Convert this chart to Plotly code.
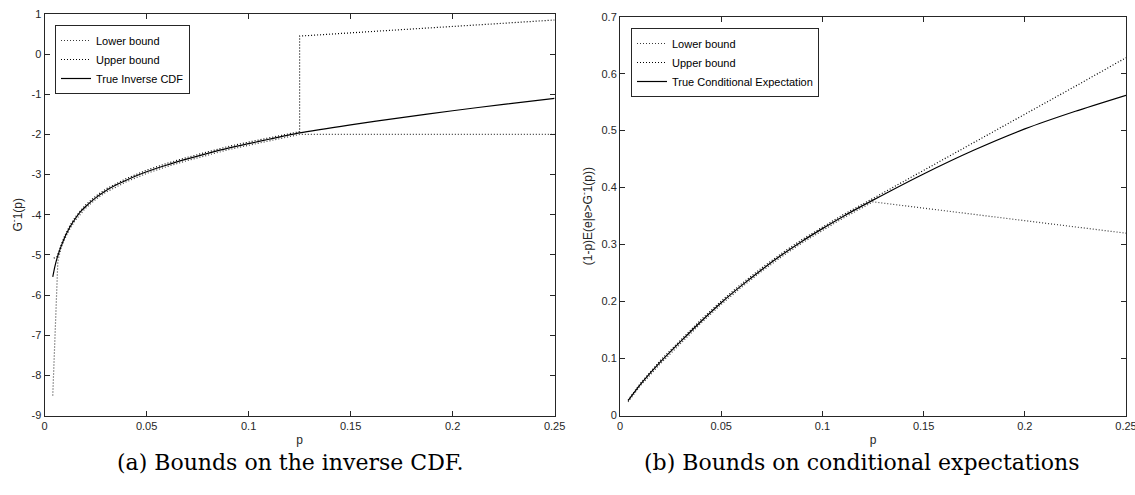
import plotly.graph_objects as go
from plotly.subplots import make_subplots

# ---- data ----
p_left = [0.004, 0.005, 0.006, 0.008, 0.010, 0.0125, 0.015, 0.0175, 0.020, 0.025, 0.030, 0.035,
          0.040, 0.045, 0.050, 0.060, 0.070, 0.080, 0.090, 0.100, 0.110, 0.125, 0.150, 0.175,
          0.200, 0.225, 0.250]
true_left = [-5.55, -5.30, -5.10, -4.80, -4.55, -4.30, -4.10, -3.93, -3.80, -3.58, -3.40, -3.26,
             -3.14, -3.03, -2.93, -2.76, -2.61, -2.47, -2.34, -2.23, -2.12, -1.96, -1.76, -1.58,
             -1.41, -1.25, -1.10]

p_lo_left = [0.004, 0.0065, 0.008, 0.010, 0.0125, 0.015, 0.020, 0.025, 0.030, 0.040, 0.050,
             0.060, 0.070, 0.080, 0.090, 0.100, 0.110, 0.125, 0.250]
lo_left = [-8.50, -5.15, -4.84, -4.59, -4.34, -4.14, -3.84, -3.62, -3.44, -3.18, -2.97,
           -2.80, -2.65, -2.51, -2.38, -2.27, -2.16, -2.00, -2.00]

p_up_left = [0.0045, 0.006, 0.008, 0.010, 0.0125, 0.015, 0.020, 0.025, 0.030, 0.040, 0.050,
             0.060, 0.070, 0.080, 0.090, 0.100, 0.110, 0.125, 0.125, 0.250]
up_left = [-5.08, -5.05, -4.76, -4.51, -4.26, -4.06, -3.76, -3.54, -3.36, -3.10, -2.89,
           -2.72, -2.57, -2.43, -2.30, -2.19, -2.08, -1.93, 0.45, 0.85]

p_right = [0.004, 0.01, 0.02, 0.03, 0.04, 0.05, 0.06, 0.07, 0.08, 0.09, 0.10, 0.11, 0.125,
           0.15, 0.175, 0.20, 0.225, 0.25]
true_right = [0.026, 0.054, 0.094, 0.130, 0.165, 0.198, 0.228, 0.256, 0.282, 0.306, 0.328,
              0.349, 0.378, 0.424, 0.466, 0.503, 0.534, 0.562]
lo_right = [0.024, 0.052, 0.091, 0.127, 0.162, 0.195, 0.225, 0.253, 0.279, 0.303, 0.325,
            0.346, 0.375, 0.364, 0.353, 0.342, 0.331, 0.320]
up_right = [0.027, 0.056, 0.097, 0.133, 0.168, 0.201, 0.231, 0.259, 0.285, 0.309, 0.331,
            0.352, 0.381, 0.430, 0.479, 0.529, 0.578, 0.628]

x_ticks = [0, 0.05, 0.1, 0.15, 0.2, 0.25]
x_ticklabels = ["0", "0.05", "0.1", "0.15", "0.2", "0.25"]
y_ticks_left = [1, 0, -1, -2, -3, -4, -5, -6, -7, -8, -9]
y_ticklabels_left = ["1", "0", "-1", "-2", "-3", "-4", "-5", "-6", "-7", "-8", "-9"]
y_ticks_right = [0, 0.1, 0.2, 0.3, 0.4, 0.5, 0.6, 0.7]
y_ticklabels_right = ["0", "0.1", "0.2", "0.3", "0.4", "0.5", "0.6", "0.7"]

W, H = 1135, 495
AX = "#262626"
SANS = "Liberation Sans, Arial, sans-serif"
SERIF = "DejaVu Serif, Liberation Serif, serif"
DOT = "1px,2px"

fig = make_subplots(rows=1, cols=2)

fig.add_trace(go.Scatter(x=p_lo_left, y=lo_left, mode="lines", name="Lower bound",
                         line=dict(color="#3a3a3a", width=1.2, dash=DOT), legend="legend"), 1, 1)
fig.add_trace(go.Scatter(x=p_up_left, y=up_left, mode="lines", name="Upper bound",
                         line=dict(color="black", width=1.2, dash=DOT), legend="legend"), 1, 1)
fig.add_trace(go.Scatter(x=p_left, y=true_left, mode="lines", name="True Inverse CDF",
                         line=dict(color="black", width=1.2, shape="spline", smoothing=0.6),
                         legend="legend"), 1, 1)

fig.add_trace(go.Scatter(x=p_right, y=lo_right, mode="lines", name="Lower bound",
                         line=dict(color="#3a3a3a", width=1.2, dash=DOT), legend="legend2"), 1, 2)
fig.add_trace(go.Scatter(x=p_right, y=up_right, mode="lines", name="Upper bound",
                         line=dict(color="black", width=1.2, dash=DOT), legend="legend2"), 1, 2)
fig.add_trace(go.Scatter(x=p_right, y=true_right, mode="lines", name="True Conditional Expectation",
                         line=dict(color="black", width=1.2, shape="spline", smoothing=0.6),
                         legend="legend2"), 1, 2)

axis_common = dict(showline=True, linecolor=AX, linewidth=1, mirror="allticks",
                   ticks="inside", ticklen=5, tickcolor=AX, showgrid=False, zeroline=False,
                   automargin=False, ticklabeloverflow="allow",
                   tickfont=dict(family=SANS, size=11, color=AX))

fig.update_xaxes(axis_common)
fig.update_yaxes(axis_common)

title_font = dict(family=SANS, size=12, color=AX)
fig.update_layout(
    xaxis=dict(domain=[44.6 / W, 554.6 / W], range=[0, 0.25], tickvals=x_ticks,
               ticktext=x_ticklabels, title=dict(text="p", font=title_font, standoff=4)),
    yaxis=dict(domain=[1 - 415.5 / H, 1 - 14 / H], range=[-9, 1], tickvals=y_ticks_left,
               ticktext=y_ticklabels_left,
               title=dict(text="G<sup>-</sup>1(p)", font=title_font, standoff=6)),
    xaxis2=dict(domain=[620 / W, 1126 / W], range=[0, 0.25], tickvals=x_ticks,
                ticktext=x_ticklabels, title=dict(text="p", font=title_font, standoff=4)),
    yaxis2=dict(domain=[1 - 415.5 / H, 1 - 16.7 / H], range=[0, 0.7], tickvals=y_ticks_right,
                ticktext=y_ticklabels_right,
                title=dict(text="(1-p)E(e|e>G<sup>-</sup>1(p))", font=title_font, standoff=6)),
    legend=dict(x=55 / W, y=1 - 25 / H, xanchor="left", yanchor="top",
                bgcolor="white", bordercolor=AX, borderwidth=1,
                font=dict(family=SANS, size=11, color="black"), tracegroupgap=0),
    legend2=dict(x=631 / W, y=1 - 28 / H, xanchor="left", yanchor="top",
                 bgcolor="white", bordercolor=AX, borderwidth=1,
                 font=dict(family=SANS, size=11, color="black"), tracegroupgap=0),
    width=W, height=H,
    margin=dict(l=0, r=0, t=0, b=0),
    plot_bgcolor="white", paper_bgcolor="white",
    showlegend=True,
)

fig.add_annotation(text="(a) Bounds on the inverse CDF.", x=290 / W, y=1 - 462 / H,
                   xref="paper", yref="paper", showarrow=False, xanchor="center", yanchor="middle",
                   font=dict(family=SERIF, size=22, color="black"))
fig.add_annotation(text="(b) Bounds on conditional expectations", x=861 / W, y=1 - 462 / H,
                   xref="paper", yref="paper", showarrow=False, xanchor="center", yanchor="middle",
                   font=dict(family=SERIF, size=22, color="black"))

fig.write_html("out.html", config={"displayModeBar": False},
               post_script="document.body.style.margin='0';document.body.style.overflow='hidden';")
